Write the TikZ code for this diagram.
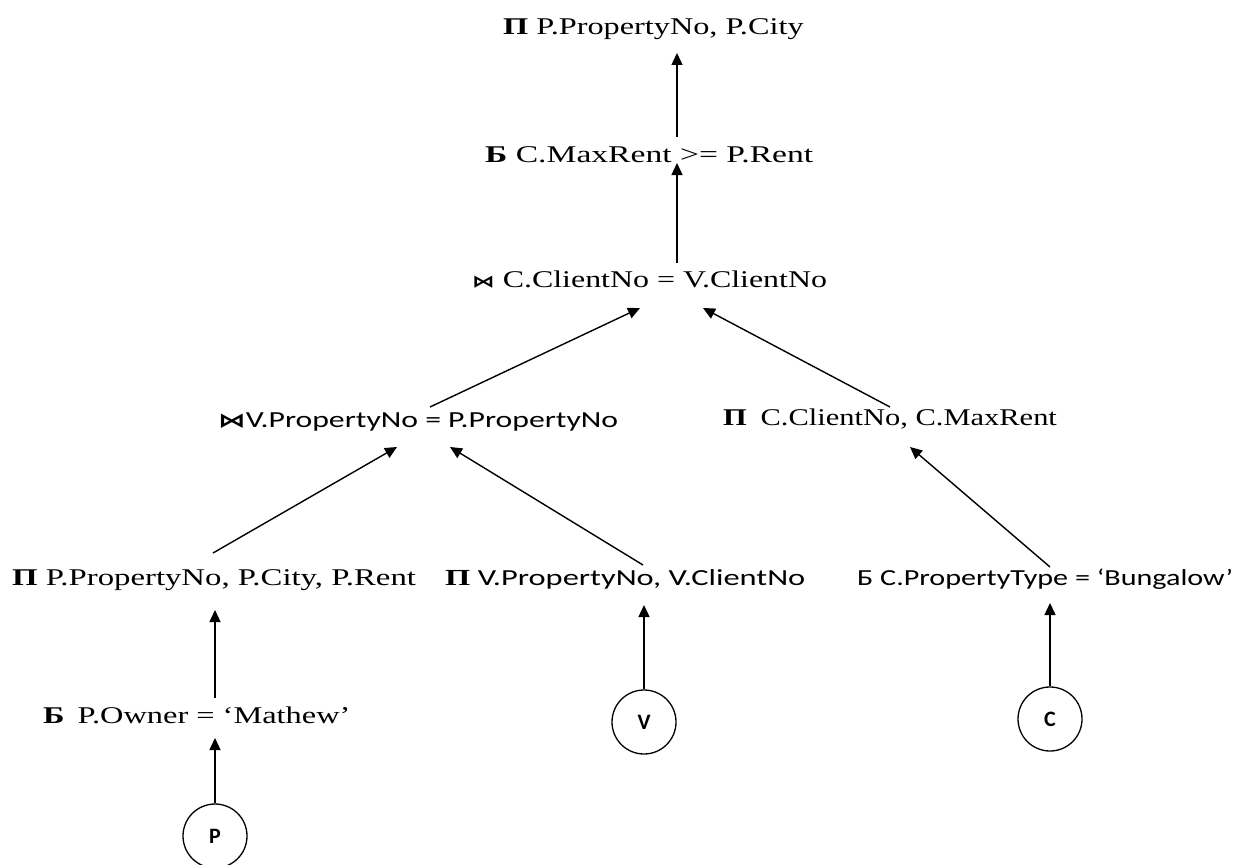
\documentclass[tikz,border=0pt]{standalone}
\usepackage{fontspec}
\setmainfont{Liberation Serif}
\newfontfamily\calib{Carlito}
\newfontfamily\symf{DejaVu Sans}
\usetikzlibrary{arrows.meta,calc}
\newcommand{\bowt}[1]{{\symf\bfseries\fontsize{#1}{20}\selectfont ⋈}}
\begin{document}
\begin{tikzpicture}[x=1pt,y=-1pt,
  lbl/.style={anchor=base west, inner sep=0pt, font=\fontsize{24}{28}\selectfont},
  slbl/.style={anchor=base west, inner sep=0pt, font=\calib\fontsize{23}{27}\selectfont},
  rel/.style={circle, draw, line width=1.3pt, minimum size=64pt, inner sep=0pt, font=\calib\bfseries\fontsize{22}{26}\selectfont},
  arr/.style={-{Triangle[length=12pt,width=11pt]}, line width=1.4pt}]
\useasboundingbox (0,0) rectangle (1238,864);
\node[lbl] (n1) at (503,35) {\scalebox{1.345}[1]{\textbf{Π} P.PropertyNo, P.City}};
\node[lbl] (n2) at (485,162) {\scalebox{1.40}[1]{\textbf{Б} C.MaxRent >= P.Rent}};
\node[lbl] (n3) at (472,287) {\scalebox{1.33}[1]{\bowt{17} C.ClientNo = V.ClientNo}};
\node[slbl] (n4) at (218,427) {\scalebox{1.38}[1]{\bowt{20}V.PropertyNo = P.PropertyNo}};
\node[lbl] (n5) at (723,425) {\scalebox{1.27}[1]{\textbf{Π}\hspace{0.45em}C.ClientNo, C.MaxRent}};
\node[lbl] (n6) at (12,585) {\scalebox{1.365}[1]{\textbf{Π} P.PropertyNo, P.City, P.Rent}};
\node[slbl] (n7) at (445,585) {\scalebox{1.41}[1]{{\rmfamily\bfseries Π} V.PropertyNo, V.ClientNo}};
\node[slbl] (n8) at (857,585) {\scalebox{1.31}[1]{Б C.PropertyType = ‘Bungalow’}};
\node[lbl] (n9) at (43,723) {\scalebox{1.35}[1]{\textbf{Б}\hspace{0.4em}P.Owner = ‘Mathew’}};
\node[rel] (cP) at (215,836) {P};
\node[rel] (cV) at (644,722) {V};
\node[rel] (cC) at (1050,719) {C};
\draw[arr] ($(n2.base west)+(192,-25)$) -- ($(n1.base west)+(174,18)$);
\draw[arr] ($(n3.base west)+(205,-24)$) -- ($(n2.base west)+(192,1)$);
\draw[arr] ($(n4.base west)+(212,-20)$) -- ($(n3.base west)+(168,21)$);
\draw[arr] ($(n5.base west)+(167,-18)$) -- ($(n3.base west)+(231,21)$);
\draw[arr] ($(n6.base west)+(201,-32)$) -- ($(n4.base west)+(179,20)$);
\draw[arr] ($(n7.base west)+(198,-20)$) -- ($(n4.base west)+(232,20)$);
\draw[arr] ($(n8.base west)+(193,-18)$) -- ($(n5.base west)+(187,22)$);
\draw[arr] ($(n9.base west)+(172,-25)$) -- ($(n6.base west)+(203,25)$);
\draw[arr] (cP.north) -- ($(n9.base west)+(172,15)$);
\draw[arr] (cV.north) -- ($(n7.base west)+(199,20)$);
\draw[arr] (cC.north) -- ($(n8.base west)+(193,18)$);
\end{tikzpicture}
\end{document}
